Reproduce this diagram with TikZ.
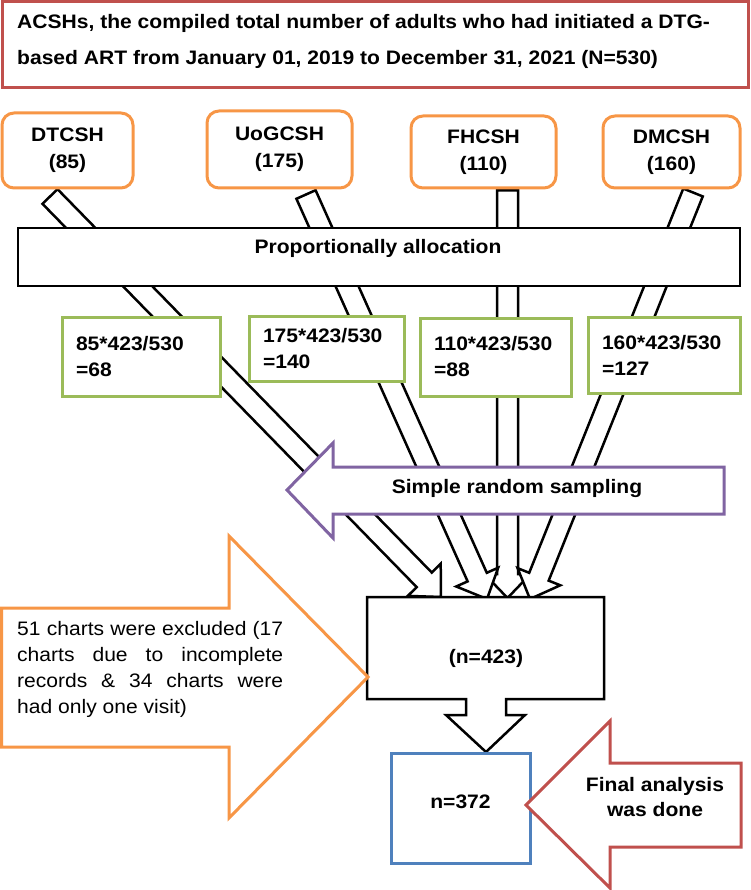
\documentclass[tikz,border=0pt]{standalone}
\usepackage{fontspec}
\setmainfont{Liberation Sans}[FakeStretch=1.08]
\usetikzlibrary{calc}

\definecolor{brick}{HTML}{C0504D}
\definecolor{tangerine}{HTML}{F79646}
\definecolor{leaf}{HTML}{9BBB59}
\definecolor{steel}{HTML}{4F81BD}
\definecolor{grape}{HTML}{8064A2}

\newcommand{\chartfont}{\bfseries\fontsize{19.5}{27}\selectfont}

\pgfdeclarelayer{back}
\pgfsetlayers{back,main}

% hollow block arrow: #1 = tail, #2 = tip
\newcommand{\hollowarrow}[2]{%
  \coordinate (ha-base) at ($(#2)!24pt!(#1)$);
  \draw[hollow] ($(#1)!10.5pt!90:(#2)$) -- ($(ha-base)!10.5pt!90:(#2)$)
    -- ($(ha-base)!23pt!90:(#2)$) -- (#2) -- ($(ha-base)!23pt!-90:(#2)$)
    -- ($(ha-base)!10.5pt!-90:(#2)$) -- ($(#1)!10.5pt!-90:(#2)$) -- cycle;
}

\begin{document}
\begin{tikzpicture}[x=1pt, y=-1pt,
  sitebox/.style={draw=tangerine, line width=3pt, rounded corners=12pt, fill=white, align=center, font=\chartfont, inner sep=0pt},
  quotabox/.style={draw=leaf, line width=3pt, fill=white, align=left, inner xsep=14pt, inner ysep=0pt, font=\bfseries\fontsize{19.5}{26}\selectfont},
  hollow/.style={draw=black, line width=2.5pt, fill=white, line join=miter},
  pointer/.style={line width=3pt, fill=white, line join=miter},
  boxtext/.style={font=\chartfont, align=center, inner sep=0pt}]

\useasboundingbox (0,0) rectangle (750,890);

% Title box
\draw[line width=3pt, draw=brick] (2,2) rectangle (748,88);
\node[anchor=west, align=left, inner sep=0pt, font=\bfseries\fontsize{19.5}{36}\selectfont] (title) at (17,41) {ACSHs, the compiled total number of adults who had initiated a DTG-\\based ART from January 01, 2019 to December 31, 2021 (N=530)};

% Hospitals
\node[sitebox, minimum width=131pt, minimum height=75pt] (dt) at (67.5,150.5) {DTCSH\\(85)};
\node[sitebox, minimum width=145pt, minimum height=77pt] (uog) at (279.5,149.5) {UoGCSH\\(175)};
\node[sitebox, minimum width=145pt, minimum height=72pt] (fh) at (483.5,152) {FHCSH\\(110)};
\node[sitebox, minimum width=137pt, minimum height=72pt] (dm) at (671.5,152) {DMCSH\\(160)};

% Allocation bar
\node[draw, line width=1.5pt, fill=white, minimum width=722pt, minimum height=58pt] (alloc) at (379,257) {};
\node[boxtext] (alloc-text) at (378,248) {Proportionally allocation};

% Quotas
\node[quotabox, text width=130pt, minimum height=79pt] (q-dt) at (141,356.5) {85*423/530\\=68};
\node[quotabox, text width=127pt, minimum height=65pt] (q-uog) at (326.5,348.5) {175*423/530\\=140};
\node[quotabox, text width=123pt, minimum height=78pt] (q-fh) at (495.5,357) {110*423/530\\=88};
\node[quotabox, text width=124pt, minimum height=76pt] (q-dm) at (664,355) {160*423/530\\=127};

% Sampling arrow
\draw[pointer, draw=grape] (287,490) -- (333,443) -- (333,467) -- (724,467) -- (724,514) -- (333,514) -- (333,538) -- cycle;
\node[boxtext] (srs) at (517,488) {Simple random sampling};

% Sample box with down arrow
\draw[hollow] (367,597) -- (604,597) -- (604,699) -- (506,699) -- (506,715) -- (525,715) -- (486,752) -- (446,715) -- (466,715) -- (466,699) -- (367,699) -- cycle;
\node[boxtext] (sample) at (486,658) {(n=423)};

% Final sample
\node[draw=steel, line width=3pt, fill=white, minimum width=139pt, minimum height=110pt, font=\chartfont, text depth=12pt] (final) at (460.5,808) {n=372};

% Exclusion arrow
\draw[pointer, draw=tangerine] (1.5,608) -- (229,608) -- (229,536) -- (368,677) -- (229,818) -- (229,747) -- (1.5,747) -- cycle;
\node[anchor=west, text width=266pt, align=justify, inner sep=0pt, font=\fontsize{19.5}{26}\selectfont] (excl) at (17,669.5) {51 charts were excluded (17\linebreak charts due to incomplete\linebreak records \& 34 charts were\linebreak had only one visit)};

% Final analysis arrow
\draw[pointer, draw=brick] (526,805) -- (610,721) -- (610,763) -- (741,763) -- (741,847) -- (610,847) -- (610,888) -- cycle;
\node[boxtext, font=\bfseries\fontsize{19.5}{25}\selectfont] (done) at (655,797.5) {Final analysis\\was done};

% Flows from hospitals to the sample
\coordinate (out-dt) at ($(dt.south)+(-17.5,7)$);
\coordinate (out-uog) at ($(uog.south)+(26.5,5)$);
\coordinate (out-fh) at ($(fh.south)+(24,1)$);
\coordinate (out-dm) at ($(dm.south)+(21.5,3)$);
\coordinate (in-dt) at (441,597);
\coordinate (in-uog) at (487,599);
\coordinate (in-fh) at (507.5,598);
\coordinate (in-dm) at (530,599);
\begin{pgfonlayer}{back}
\hollowarrow{out-fh}{in-fh}
\hollowarrow{out-dt}{in-dt}
\hollowarrow{out-uog}{in-uog}
\hollowarrow{out-dm}{in-dm}
\end{pgfonlayer}

\end{tikzpicture}
\end{document}
